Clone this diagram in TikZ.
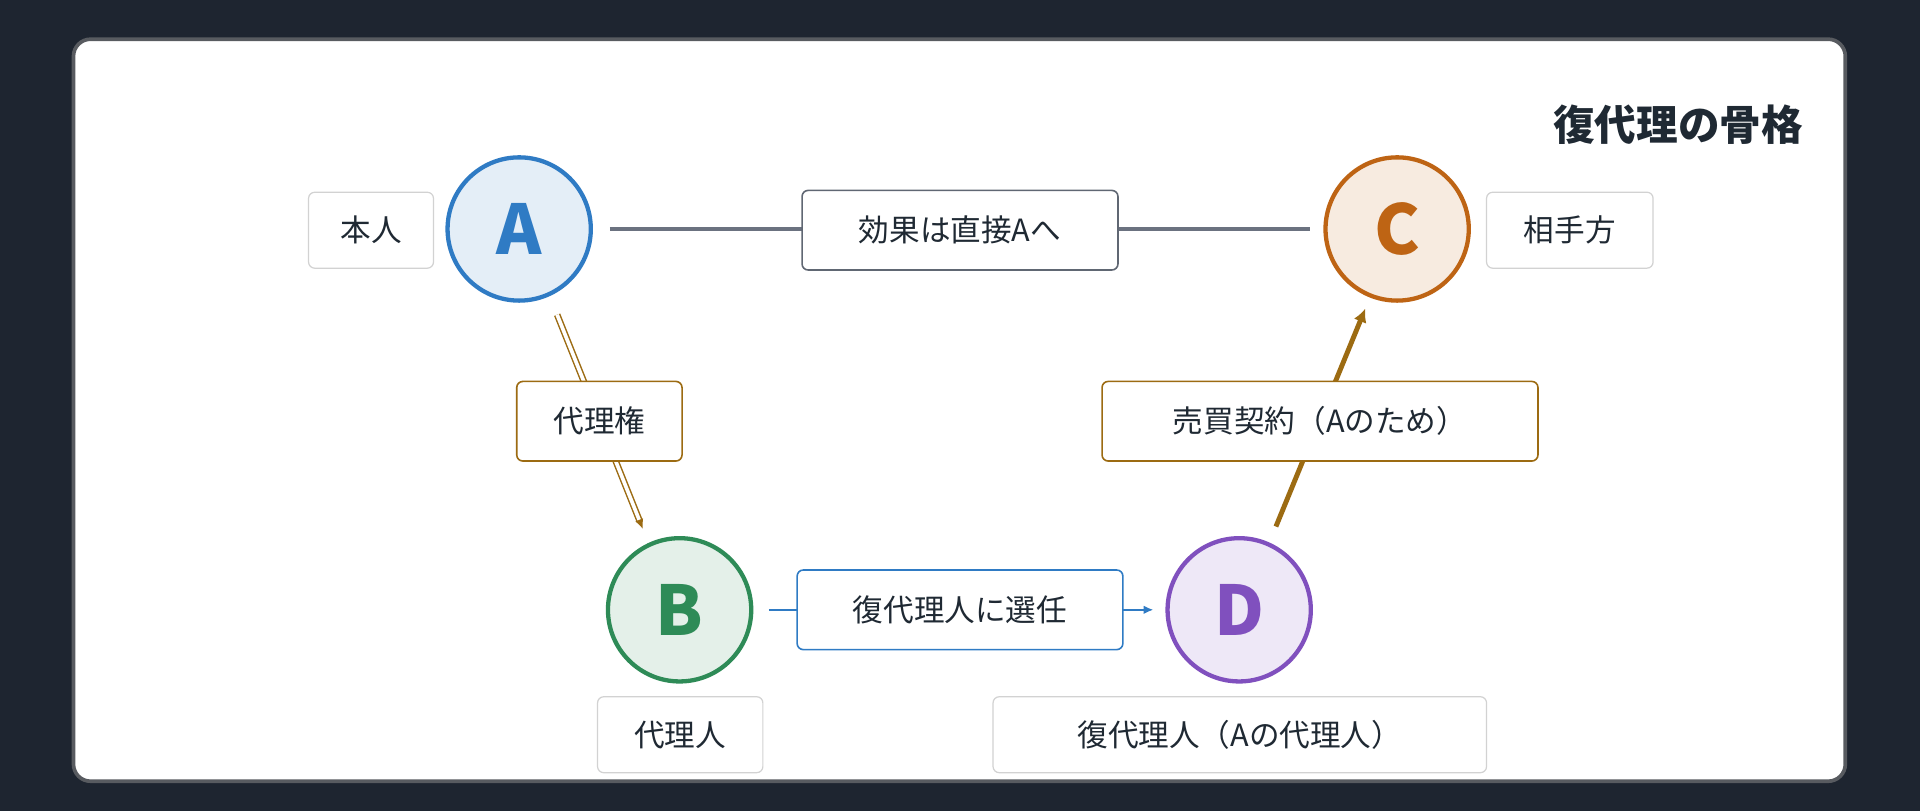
\documentclass[tikz,border=0pt]{standalone}
\usepackage{fontspec}
\setmainfont{Noto Sans CJK JP}
\usetikzlibrary{arrows.meta}
\definecolor{bg}{HTML}{1E2530}
\definecolor{ink}{HTML}{1F2933}
\definecolor{gold}{HTML}{9C6B12}
\definecolor{grayl}{HTML}{6B7280}
\definecolor{blueb}{HTML}{2F7BC4}
\definecolor{greenb}{HTML}{2E8B57}
\definecolor{orangeb}{HTML}{BE6414}
\definecolor{purpleb}{HTML}{8050BE}
\tikzset{
  circ/.style={circle,line width=3.5pt,minimum size=117pt,inner sep=0pt,font=\fontsize{56}{60}\selectfont\bfseries,draw=#1,fill=#1!13,text=#1},
  lab/.style={draw=gray!35,line width=1pt,rounded corners=5pt,fill=white,text=ink,font=\fontsize{25}{28}\selectfont,inner sep=0pt,minimum height=62pt},
  elab/.style={lab,line width=1.3pt,minimum height=65pt},
}
\begin{document}
\begin{tikzpicture}[x=1pt,y=-1pt]
\fill[bg] (0,0) rectangle (1568,662);
\useasboundingbox (0,0) rectangle (1568,662);
\draw[fill=white,draw=gray!60!bg,line width=3pt,rounded corners=14pt] (60,32) rectangle (1507,638);
\node[anchor=east,text=ink,font=\fontsize{34}{38}\selectfont\bfseries] (title) at (1476,102) {復代理の骨格};
\node[circ=blueb] (A) at (424,187) {A};
\node[circ=greenb] (B) at (555,498) {B};
\node[circ=orangeb] (C) at (1141,187) {C};
\node[circ=purpleb] (D) at (1012,498) {D};
\node[lab,minimum width=102pt] (la) at (303,188) {本人};
\node[lab,minimum width=136pt] (lc) at (1282,188) {相手方};
\node[lab,minimum width=135pt] (lb) at (555.5,600) {代理人};
\node[lab,minimum width=403pt] (ld) at (1012.5,600) {復代理人（Aの代理人）};
\coordinate (a1) at (498,187); \coordinate (c1) at (1070,187);
\draw[grayl,line width=3pt] (a1) -- (c1);
\coordinate (a2) at (455,257); \coordinate (b2) at (525,432);
\draw[gold,line width=1.2pt,double=white,double distance=3pt,-{Latex[length=8pt,width=7pt]}] (a2) -- (b2);
\coordinate (b3) at (628,498); \coordinate (d3) at (942,498);
\draw[blueb,line width=2pt,-{Latex[length=8pt,width=7pt]}] (b3) -- (d3);
\coordinate (d4) at (1042,430); \coordinate (c4) at (1115,252);
\draw[gold,line width=4pt,-{Latex[length=11pt,width=11pt]}] (d4) -- (c4);
\node[elab,draw=grayl!90!black,minimum width=258pt] (e1) at (784,188) {効果は直接Aへ};
\node[elab,draw=gold,minimum width=135pt] (e2) at (489.5,344) {代理権};
\node[elab,draw=gold,minimum width=356pt] (e3) at (1078,344) {売買契約（Aのため）};
\node[elab,draw=blueb,minimum width=266pt] (e4) at (784,498) {復代理人に選任};
\end{tikzpicture}
\end{document}
